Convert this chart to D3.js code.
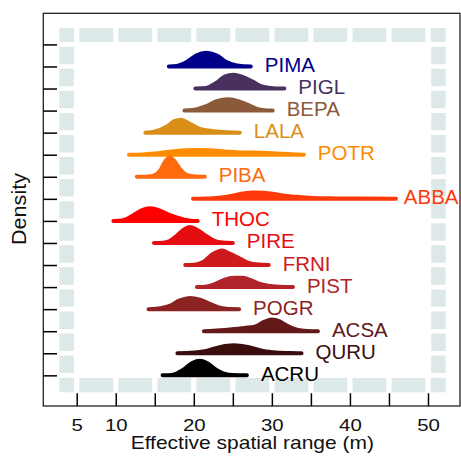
<!DOCTYPE html>
<html>
<head>
<meta charset="utf-8">
<title>Ridgeline - effective spatial range</title>
<script src="https://d3js.org/d3.v7.min.js"></script>
<style>
  body { margin: 0; background: #fff; }
  text { font-family: "Liberation Sans", Arial, Helvetica, sans-serif; }
</style>
</head>
<body>
<div id="chart"></div>
<script>

// species from top to bottom
const species = ["PIMA", "PIGL", "BEPA", "LALA", "POTR", "PIBA", "ABBA", "THOC",
                 "PIRE", "FRNI", "PIST", "POGR", "ACSA", "QURU", "ACRU"];
const colors = ["#00008b", "#48305f", "#8b5a3a", "#d98f17", "#ff8c00", "#ff6a0f", "#ff3a0a", "#ff0000",
                "#e50d12", "#cd1a1c", "#b0242a", "#8c2323", "#631919", "#3b0e0e", "#000000"];

// density curves: [range (m), density]
const pima = [[16.8,0],[17.8,0.02],[19.1,0.2],[20.3,0.5],[21.6,0.62],[22.9,0.5],[24.2,0.2],[25.5,0.04],[26.5,0.01],[27.3,0]];
const pigl = [[20.2,0],[21.6,0.03],[22.9,0.26],[24.0,0.55],[25.1,0.63],[26.3,0.52],[27.6,0.3],[28.7,0.1],[29.8,0.03],[31.6,0]];
const bepa = [[18.8,0],[19.9,0.03],[21.6,0.2],[23.0,0.44],[24.4,0.51],[25.8,0.42],[27.2,0.22],[28.2,0.07],[29.0,0.02],[30.1,0]];
const lala = [[13.8,0],[14.8,0.03],[16.5,0.27],[17.5,0.52],[18.4,0.59],[19.4,0.42],[20.8,0.17],[22.5,0.07],[24.2,0.02],[25.9,0]];
const potr = [[11.7,0],[13.5,0.01],[15,0.05],[16.5,0.12],[18,0.18],[20,0.21],[22,0.2],[24,0.15],[26.3,0.1],[28.5,0.09],[30.6,0.06],[32.5,0.02],[34.1,0]];
const piba = [[12.7,0],[14.2,0.01],[15.0,0.08],[15.7,0.29],[16.4,0.74],[16.95,0.86],[17.5,0.72],[18.2,0.36],[19.0,0.1],[19.9,0.02],[21.4,0]];
const abba = [[19.9,0],[21.5,0.01],[22.5,0.03],[24.6,0.12],[26.3,0.24],[27.6,0.29],[29,0.28],[31,0.18],[33.2,0.09],[35.3,0.04],[38,0.02],[42,0.01],[45.9,0]];
const thoc = [[9.7,0],[10.8,0.02],[12.2,0.24],[13.3,0.48],[14.4,0.57],[15.6,0.48],[16.7,0.3],[17.8,0.16],[18.8,0.05],[19.6,0.01],[20.5,0]];
const pire = [[14.9,0],[16.0,0.01],[16.9,0.09],[17.8,0.32],[18.7,0.6],[19.5,0.72],[20.4,0.6],[21.6,0.32],[22.5,0.12],[23.4,0.03],[25.0,0]];
const frni = [[18.9,0],[20.0,0.01],[21.2,0.14],[22.5,0.51],[23.6,0.66],[24.6,0.52],[25.9,0.29],[27.0,0.1],[28.3,0.02],[29.6,0]];
const pist = [[20.4,0],[21.5,0.02],[22.6,0.12],[23.8,0.32],[25.2,0.42],[26.3,0.42],[27.4,0.3],[28.5,0.14],[29.8,0.05],[31,0.01],[32.7,0]];
const pogr = [[14.2,0],[15.2,0.02],[16.9,0.15],[18.2,0.4],[19.5,0.51],[20.8,0.43],[22.0,0.25],[23.2,0.08],[24.2,0.02],[25.8,0]];
const acsa = [[21.3,0],[22.5,0.02],[24.6,0.08],[26.5,0.15],[27.9,0.22],[29.0,0.42],[30.0,0.53],[31.0,0.45],[31.9,0.26],[33.2,0.07],[34.5,0.01],[35.9,0]];
const quru = [[17.9,0],[19.5,0.02],[21.6,0.11],[23.3,0.28],[25.1,0.36],[26.9,0.29],[28.9,0.11],[30.6,0.04],[32.3,0.01],[33.8,0]];
const acru = [[16.0,0],[17.2,0.02],[18.6,0.24],[19.8,0.56],[20.8,0.66],[21.8,0.54],[22.9,0.24],[24.0,0.06],[25.0,0.01],[26.8,0]];
const curves = [pima, pigl, bepa, lala, potr, piba, abba, thoc, pire, frni, pist, pogr, acsa, quru, acru];

const xTicks = [5, 10, 15, 20, 25, 30, 35, 40, 45, 50];
const xLabels = [5, 10, 20, 30, 40, 50];
const yTicks = d3.range(0, 16);   // row 0 is the empty top row

const W = 461, H = 460;
const svg = d3.select("#chart").append("svg")
    .attr("width", W)
    .attr("height", H);

const x = d3.scaleLinear().domain([0.72, 54.1]).range([43.3, 460]);
const y = d3.scaleLinear().domain([-1.41, 16.39]).range([13.3, 406]);

// light frame, cut by white lines at each tick
svg.append("rect")
    .attr("x", x(3.71))
    .attr("y", y(-0.42))
    .attr("width", x(51.34) - x(3.71))
    .attr("height", y(15.44) - y(-0.42))
    .attr("fill", "none")
    .attr("stroke", "#dde9e9")
    .attr("stroke-width", 14.5);

svg.append("g").selectAll("line")
    .data(xTicks)
    .join("line")
    .attr("x1", d => x(d)).attr("x2", d => x(d))
    .attr("y1", y(-1.2)).attr("y2", y(16.2))
    .attr("stroke", "#fff")
    .attr("stroke-width", 5.2);

svg.append("g").selectAll("line")
    .data(yTicks)
    .join("line")
    .attr("x1", x(2)).attr("x2", x(53))
    .attr("y1", d => y(d)).attr("y2", d => y(d))
    .attr("stroke", "#fff")
    .attr("stroke-width", 4.6);

// ridges
const ridges = svg.append("g");
curves.forEach((pts, i) => {
    const k = i + 1;
    const area = d3.area()
        .curve(d3.curveMonotoneX)
        .x(d => x(d[0]))
        .y0(y(k))
        .y1(d => y(k - d[1]));

    ridges.append("path")
        .attr("d", area(pts))
        .attr("fill", colors[i])
        .attr("stroke", colors[i])
        .attr("stroke-width", 4)
        .attr("stroke-linejoin", "round")
        .attr("stroke-linecap", "round");

    const xmax = d3.max(pts, d => d[0]);
    const lab = ridges.append("text")
        .attr("x", x(xmax) + 14)
        .attr("y", y(k) + 5.5)
        .attr("font-size", 20.5)
        .attr("fill", colors[i])
        .text(species[i]);
    const w = lab.node().getComputedTextLength();
    if (x(xmax) + 14 + w > 458.5) lab.attr("x", 458.5 - w);
});

// box
svg.append("rect")
    .attr("x", 43.3).attr("y", 13.3)
    .attr("width", 460 - 43.3).attr("height", 406 - 13.3)
    .attr("fill", "none")
    .attr("stroke", "#222")
    .attr("stroke-width", 1.3);

// x axis, ticks pointing inward
const xAxis = svg.append("g")
    .attr("transform", `translate(0,${y.range()[1]})`)
    .call(d3.axisBottom(x)
        .tickValues(xTicks)
        .tickSize(-12.7)
        .tickPadding(13)
        .tickFormat(d => xLabels.includes(d) ? d : ""));
xAxis.select(".domain").remove();
xAxis.selectAll("line").attr("stroke", "#000").attr("stroke-width", 1.5);
xAxis.selectAll("text")
    .attr("font-size", 17)
    .attr("fill", "#111")
    .attr("transform", "scale(1.2,1)");

// y axis, no labels
const yAxis = svg.append("g")
    .attr("transform", `translate(${x.range()[0]},0)`)
    .call(d3.axisLeft(y)
        .tickValues(yTicks)
        .tickSize(-13.7)
        .tickFormat(""));
yAxis.select(".domain").remove();
yAxis.selectAll("line").attr("stroke", "#000").attr("stroke-width", 1.5);

// axis titles
svg.append("text")
    .attr("transform", "translate(252.3,449) scale(1.2,1)")
    .attr("text-anchor", "middle")
    .attr("font-size", 17.5)
    .attr("fill", "#111")
    .text("Effective spatial range (m)");

svg.append("text")
    .attr("transform", "translate(25.5,209) rotate(-90)")
    .attr("text-anchor", "middle")
    .attr("font-size", 20)
    .attr("textLength", 72)
    .attr("lengthAdjust", "spacingAndGlyphs")
    .attr("fill", "#111")
    .text("Density");

</script>
</body>
</html>
